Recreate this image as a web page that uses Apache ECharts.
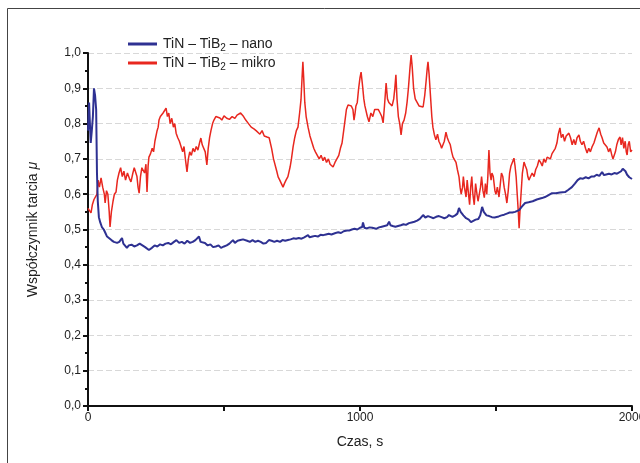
<!DOCTYPE html>
<html>
<head>
<meta charset="utf-8">
<script src="https://cdn.jsdelivr.net/npm/echarts@6/dist/echarts.min.js"></script>
<style>
  html, body { margin: 0; padding: 0; background: #fff; }
  #chart { width: 640px; height: 463px; }
</style>
</head>
<body>
<div id="chart"></div>
<script>
// 数据：时间 (s) 与摩擦系数
var nanoTime = [0,4,7,10,14,18,22,26,30,33,36,40,45,51,58,64,70,78,86,95,107,115,125,130,136,143,150,160,170,180,190,200,210,224,235,245,255,265,275,285,295,305,316,325,335,345,355,365,375,385,395,402,408,414,420,430,440,450,460,470,480,489,500,510,520,533,540,550,560,570,577,585,595,605,615,625,635,645,655,665,675,685,695,706,715,725,735,745,755,765,775,785,795,802,809,815,825,835,845,855,865,875,885,895,901,910,920,930,940,952,960,970,980,990,1000,1008,1011,1016,1025,1035,1045,1059,1070,1080,1090,1100,1107,1112,1120,1130,1140,1150,1160,1169,1180,1190,1200,1210,1220,1232,1240,1250,1260,1270,1280,1290,1300,1310,1320,1327,1340,1350,1358,1364,1370,1380,1390,1400,1408,1415,1425,1435,1442,1449,1455,1465,1475,1485,1495,1500,1510,1520,1530,1540,1550,1560,1570,1585,1595,1607,1620,1635,1650,1669,1680,1690,1706,1720,1735,1754,1765,1779,1790,1800,1809,1820,1830,1840,1850,1860,1870,1880,1890,1897,1905,1915,1925,1935,1945,1952,1960,1966,1971,1976,1982,1990,2000];
var nanoMu = [0.78,0.86,0.80,0.745,0.78,0.82,0.90,0.88,0.84,0.66,0.58,0.535,0.52,0.507,0.50,0.49,0.48,0.475,0.47,0.465,0.462,0.465,0.476,0.46,0.455,0.448,0.455,0.457,0.452,0.455,0.46,0.455,0.45,0.442,0.448,0.455,0.452,0.458,0.455,0.46,0.462,0.458,0.465,0.47,0.462,0.465,0.46,0.468,0.462,0.465,0.47,0.472,0.48,0.465,0.46,0.462,0.455,0.458,0.45,0.452,0.455,0.448,0.452,0.455,0.46,0.47,0.462,0.468,0.47,0.472,0.476,0.468,0.465,0.47,0.465,0.468,0.465,0.46,0.462,0.47,0.468,0.465,0.468,0.465,0.47,0.468,0.47,0.472,0.475,0.474,0.476,0.474,0.478,0.476,0.484,0.478,0.48,0.482,0.48,0.485,0.484,0.486,0.488,0.486,0.49,0.49,0.492,0.49,0.495,0.497,0.497,0.5,0.502,0.5,0.505,0.507,0.52,0.505,0.503,0.506,0.505,0.502,0.506,0.508,0.51,0.512,0.522,0.512,0.51,0.508,0.51,0.512,0.515,0.513,0.518,0.52,0.522,0.525,0.53,0.541,0.534,0.538,0.535,0.532,0.536,0.538,0.535,0.532,0.535,0.541,0.536,0.54,0.545,0.561,0.55,0.54,0.532,0.528,0.521,0.525,0.528,0.53,0.54,0.564,0.55,0.54,0.538,0.535,0.534,0.535,0.537,0.54,0.542,0.545,0.548,0.548,0.55,0.555,0.565,0.575,0.577,0.58,0.585,0.589,0.592,0.596,0.603,0.603,0.605,0.606,0.612,0.62,0.63,0.64,0.645,0.644,0.648,0.645,0.65,0.65,0.655,0.652,0.663,0.654,0.656,0.658,0.656,0.66,0.658,0.66,0.665,0.672,0.677,0.665,0.655,0.648,0.643];

var mikroTime = [0,4,11,16,22,28,33,37,42,48,54,60,63,68,73,78,81,86,92,97,103,108,114,120,126,132,138,145,152,158,165,170,176,180,184,188,193,198,204,208,213,217,221,224,230,236,241,246,250,254,258,261,266,271,276,281,287,292,297,302,308,314,319,324,330,336,342,348,353,358,364,369,374,380,386,392,398,404,410,415,420,426,431,437,442,447,452,458,463,470,477,485,492,500,510,520,530,540,548,555,561,566,572,580,590,600,610,618,625,632,640,648,658,666,675,682,688,694,699,705,711,717,722,728,735,743,748,754,760,766,772,778,783,787,790,793,797,802,809,816,824,830,836,842,850,857,864,870,877,884,890,895,901,908,915,922,928,934,940,945,950,956,962,968,974,978,982,985,990,995,1000,1004,1009,1014,1018,1022,1027,1033,1040,1047,1054,1060,1067,1074,1080,1085,1090,1096,1101,1106,1112,1118,1124,1128,1132,1136,1141,1146,1151,1156,1162,1168,1173,1178,1184,1188,1192,1197,1203,1210,1217,1224,1232,1238,1243,1247,1250,1254,1259,1264,1268,1273,1279,1285,1290,1296,1300,1305,1310,1316,1321,1326,1332,1337,1342,1348,1353,1358,1364,1368,1372,1377,1380,1384,1388,1390,1394,1399,1403,1407,1411,1415,1420,1425,1430,1434,1438,1443,1447,1452,1457,1461,1466,1470,1474,1478,1482,1485,1490,1496,1500,1505,1511,1516,1520,1525,1530,1535,1540,1545,1550,1555,1560,1566,1570,1574,1578,1582,1585,1588,1592,1597,1603,1608,1613,1617,1621,1627,1633,1640,1646,1652,1658,1664,1670,1676,1682,1688,1694,1700,1706,1712,1718,1724,1729,1735,1740,1746,1752,1758,1763,1768,1774,1780,1786,1792,1798,1805,1810,1816,1822,1829,1835,1841,1847,1853,1860,1866,1872,1879,1885,1890,1896,1902,1908,1914,1920,1926,1930,1934,1939,1944,1950,1956,1960,1965,1970,1975,1979,1982,1986,1990,1995,2000];
var mikroMu = [0.56,0.565,0.547,0.57,0.585,0.58,0.60,0.64,0.62,0.646,0.62,0.60,0.575,0.61,0.60,0.55,0.507,0.55,0.58,0.60,0.606,0.64,0.66,0.675,0.65,0.665,0.64,0.66,0.645,0.635,0.66,0.675,0.677,0.65,0.62,0.603,0.65,0.675,0.68,0.66,0.685,0.606,0.68,0.705,0.715,0.73,0.72,0.75,0.754,0.78,0.79,0.81,0.82,0.815,0.83,0.825,0.844,0.82,0.83,0.80,0.815,0.79,0.80,0.773,0.76,0.75,0.745,0.72,0.735,0.70,0.663,0.70,0.72,0.71,0.73,0.72,0.735,0.725,0.745,0.759,0.74,0.735,0.72,0.683,0.73,0.76,0.78,0.80,0.81,0.82,0.815,0.816,0.81,0.822,0.815,0.812,0.82,0.815,0.824,0.82,0.83,0.833,0.82,0.81,0.80,0.79,0.785,0.78,0.776,0.77,0.78,0.765,0.762,0.76,0.73,0.70,0.697,0.665,0.649,0.64,0.63,0.62,0.63,0.64,0.65,0.677,0.70,0.734,0.76,0.78,0.79,0.83,0.867,0.93,0.975,0.93,0.86,0.82,0.79,0.765,0.745,0.73,0.72,0.717,0.70,0.71,0.695,0.705,0.69,0.70,0.685,0.69,0.677,0.69,0.70,0.71,0.73,0.745,0.78,0.81,0.84,0.853,0.85,0.85,0.84,0.81,0.83,0.85,0.86,0.90,0.93,0.946,0.91,0.87,0.85,0.847,0.82,0.805,0.83,0.82,0.84,0.835,0.84,0.83,0.82,0.802,0.85,0.915,0.87,0.86,0.855,0.85,0.87,0.90,0.938,0.87,0.82,0.80,0.768,0.80,0.81,0.83,0.86,0.90,0.96,0.994,0.96,0.90,0.87,0.86,0.85,0.845,0.847,0.88,0.92,0.955,0.975,0.94,0.88,0.82,0.79,0.77,0.754,0.77,0.75,0.74,0.73,0.725,0.75,0.776,0.76,0.75,0.74,0.72,0.705,0.70,0.69,0.67,0.649,0.62,0.60,0.62,0.65,0.62,0.60,0.592,0.64,0.60,0.57,0.62,0.65,0.60,0.57,0.63,0.60,0.58,0.575,0.62,0.65,0.61,0.59,0.63,0.60,0.65,0.725,0.66,0.64,0.66,0.65,0.61,0.60,0.62,0.592,0.63,0.66,0.65,0.62,0.60,0.575,0.61,0.66,0.68,0.69,0.702,0.68,0.65,0.60,0.55,0.504,0.55,0.60,0.66,0.691,0.68,0.67,0.65,0.64,0.65,0.66,0.65,0.67,0.68,0.697,0.69,0.68,0.70,0.69,0.705,0.71,0.70,0.715,0.71,0.73,0.745,0.77,0.788,0.76,0.77,0.75,0.765,0.76,0.773,0.76,0.74,0.755,0.74,0.76,0.768,0.75,0.74,0.75,0.73,0.717,0.73,0.72,0.734,0.745,0.76,0.775,0.788,0.77,0.76,0.745,0.74,0.734,0.72,0.73,0.71,0.70,0.702,0.72,0.74,0.755,0.762,0.74,0.76,0.73,0.75,0.72,0.711,0.74,0.75,0.72,0.725];

var yTicks = [0, 0.1, 0.2, 0.3, 0.4, 0.5, 0.6, 0.7, 0.8, 0.9, 1.0];
var xLabels = [0, 1000, 2000];

function pairs(t, v) {
    return t.map((x, i) => [x, v[i]]);
}

var font = "'Liberation Sans', Arial, sans-serif";
var chart = echarts.init(document.getElementById('chart'));

var option = {
    animation: false,
    backgroundColor: '#fff',
    textStyle: { fontFamily: font },
    graphic: [{
        type: 'rect',
        shape: { x: 7.5, y: 8.5, width: 700, height: 500 },
        style: { fill: 'none', stroke: '#444', lineWidth: 1 },
        silent: true
    }],
    grid: { left: 88, right: 8, top: 53, bottom: 57, containLabel: false, outerBoundsMode: 'none' },
    legend: {
        left: 123,
        top: 32,
        orient: 'vertical',
        icon: 'rect',
        itemWidth: 29,
        itemHeight: 3,
        itemGap: 3,
        data: ['nano', 'mikro'],
        formatter: function (name) {
            return '{a|TiN – TiB}{s|2}{a| – ' + name + '}';
        },
        textStyle: {
            fontFamily: font,
            padding: [0, 0, 0, 1],
            rich: {
                a: { fontSize: 14, color: '#222', fontFamily: font },
                s: { fontSize: 10, color: '#222', fontFamily: font, padding: [8, 0, 0, 0] }
            }
        }
    },
    xAxis: {
        type: 'value',
        min: 0,
        max: 2000,
        interval: 500,
        name: 'Czas, s',
        nameLocation: 'middle',
        nameGap: 29,
        nameTextStyle: { fontSize: 14, color: '#222', fontFamily: font },
        axisLine: { onZero: false, lineStyle: { color: '#111', width: 2 } },
        axisTick: { show: true, inside: false, length: 5, lineStyle: { color: '#111', width: 2 } },
        axisLabel: {
            fontSize: 12, color: '#222', margin: 6,
            formatter: function (v) { return xLabels.indexOf(v) >= 0 ? String(v) : ''; }
        },
        splitLine: { show: false }
    },
    yAxis: {
        type: 'value',
        min: 0,
        max: 1.0,
        interval: 0.1,
        name: '{a|Współczynnik tarcia }{m|μ}',
        nameLocation: 'middle',
        nameGap: 48,
        nameTextStyle: {
            rich: {
                a: { fontSize: 14, color: '#222', fontFamily: font },
                m: { fontSize: 14, color: '#222', fontFamily: font, fontStyle: 'italic' }
            }
        },
        axisLine: { show: true, lineStyle: { color: '#111', width: 2 } },
        axisTick: { show: true, inside: false, length: 5, lineStyle: { color: '#111', width: 2 } },
        minorTick: { show: true, splitNumber: 2, length: 3, lineStyle: { color: '#111', width: 2 } },
        axisLabel: {
            fontSize: 12, color: '#222', margin: 7,
            formatter: function (v) {
                var t = yTicks.find(x => Math.abs(x - v) < 1e-6);
                return t === undefined ? '' : t.toFixed(1).replace('.', ',');
            }
        },
        splitLine: { show: true, lineStyle: { color: '#d8d8d8', type: [6, 3], width: 1 } }
    },
    series: [
        {
            name: 'nano',
            type: 'line',
            data: pairs(nanoTime, nanoMu),
            symbol: 'none',
            color: '#2e3192',
            lineStyle: { color: '#2e3192', width: 2 },
            z: 3
        },
        {
            name: 'mikro',
            type: 'line',
            data: pairs(mikroTime, mikroMu),
            symbol: 'none',
            color: '#e8271f',
            lineStyle: { color: '#e8271f', width: 1.5 },
            z: 2
        }
    ]
};

chart.setOption(option);
</script>
</body>
</html>
